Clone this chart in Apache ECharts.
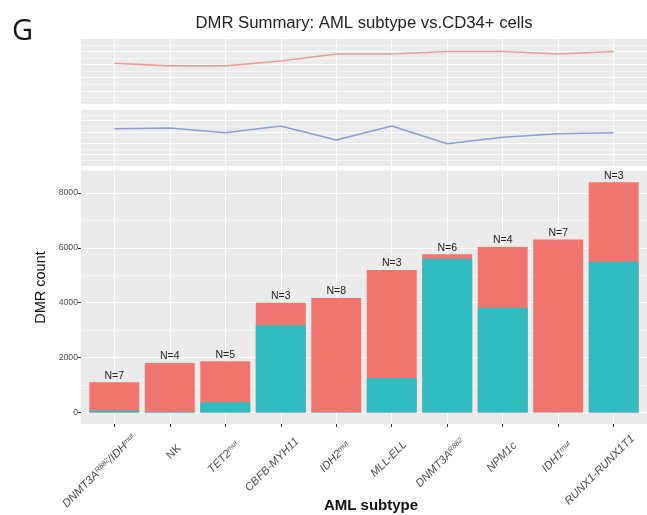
<!DOCTYPE html>
<html>
<head>
<meta charset="utf-8">
<title>DMR Summary</title>
<script src="https://cdn.jsdelivr.net/npm/echarts/dist/echarts.min.js"></script>
<style>
  html, body { margin: 0; padding: 0; background: #fff; }
  #chart { width: 647px; height: 515px; }
</style>
</head>
<body>
<div id="chart"></div>
<script>
// AML subtypes; each label is a list of [text, style] pieces (superscripts as 'sup')
const subtypeLabels = [
  [['DNMT3A', 'it'], ['R882', 'sup'], ['/IDH', 'it'], ['mut', 'sup']],
  [['NK', 'plain']],
  [['TET2', 'it'], ['mut', 'sup']],
  [['CBFB-MYH11', 'it']],
  [['IDH2', 'it'], ['mut', 'sup']],
  [['MLL-ELL', 'it']],
  [['DNMT3A', 'it'], ['R882', 'sup']],
  [['NPM1c', 'it']],
  [['IDH1', 'it'], ['mut', 'sup']],
  [['RUNX1-RUNX1T1', 'it']]
];
// Number of samples per subtype
const sampleCounts = [7, 4, 5, 3, 8, 3, 6, 4, 7, 3];
// DMR counts per subtype (teal lower segment, salmon upper segment)
const hypoDMR  = [70, 30, 370, 3180, 20, 1260, 5600, 3820, 5, 5490];
const hyperDMR = [1030, 1770, 1500, 820, 4150, 3930, 170, 2210, 6300, 2900];
// Trend panels above the bars (relative scale)
const hyperTrend = [0.62, 0.58, 0.58, 0.655, 0.76, 0.76, 0.80, 0.80, 0.76, 0.80];
const hypoTrend  = [0.658, 0.67, 0.586, 0.705, 0.459, 0.705, 0.393, 0.506, 0.57, 0.586];
// Count axis breaks
const countTicks = [0, 2000, 4000, 6000, 8000];
const countMinorTicks = [1000, 3000, 5000, 7000];

const FONT = 'Liberation Sans, Arial, Helvetica, sans-serif';
const positions = subtypeLabels.map((_, i) => i);
const toPairs = arr => arr.map((v, i) => [i, v]);
const totalDMR = hypoDMR.map((v, i) => v + hyperDMR[i]);

// Tick label fonts
const TICK_SIZE = 11.3;
const SUP_SIZE = 7.2;
const labelFonts = {
  it: 'italic ' + TICK_SIZE + 'px ' + FONT,
  plain: TICK_SIZE + 'px ' + FONT,
  sup: 'italic ' + SUP_SIZE + 'px ' + FONT
};

// Measure each tick label so the rotated text can be shifted along its own direction
const measureCtx = document.createElement('canvas').getContext('2d');
function labelWidth(pieces) {
  return pieces.reduce((w, [t, s]) => {
    measureCtx.font = labelFonts[s];
    return w + measureCtx.measureText(t).width;
  }, 0);
}
const tickRich = {
  it:    { fontFamily: FONT, fontStyle: 'italic', fontSize: TICK_SIZE, color: '#4D4D4D' },
  plain: { fontFamily: FONT, fontSize: TICK_SIZE, color: '#4D4D4D' },
  sup:   { fontFamily: FONT, fontStyle: 'italic', fontSize: SUP_SIZE, color: '#4D4D4D', verticalAlign: 'top' }
};
// Centred labels padded on one side so each one ends a little past its tick
const spacerSide = [];
subtypeLabels.forEach((pieces, i) => {
  const q = 0.652 * labelWidth(pieces) - 21.6;
  spacerSide[i] = q >= 0 ? 'after' : 'before';
  tickRich['sp' + i] = { width: Math.abs(q), fontSize: TICK_SIZE };
});

function labelRich(i) {
  const body = subtypeLabels[i].map(([t, s]) => '{' + s + '|' + t + '}').join('');
  const pad = '{sp' + i + '| }';
  return spacerSide[i] === 'after' ? body + pad : pad + body;
}

const panelBg = '#EBEBEB';
const grids = [
  { left: 81, right: 0, top: 38.3, height: 65.7 },
  { left: 81, right: 0, top: 109.3, height: 56.7 },
  { left: 81, right: 0, top: 170.5, height: 253.5 }
].map(g => Object.assign({
  show: true, backgroundColor: panelBg, borderWidth: 0,
  containLabel: false, outerBoundsMode: 'none'
}, g));

function xAxisFor(gridIndex, withLabels) {
  return {
    type: 'value', gridIndex, min: -0.6, max: 9.6,
    axisLine: { show: false, onZero: false },
    axisTick: {
      show: withLabels, customValues: positions, length: 3,
      lineStyle: { color: '#333', width: 1 }
    },
    axisLabel: withLabels ? {
      customValues: positions,
      rotate: 45, margin: 32, align: 'center', verticalAlign: 'middle',
      hideOverlap: false,
      formatter: v => labelRich(Math.round(v)),
      rich: tickRich
    } : { show: false },
    splitLine: { show: true, lineStyle: { color: '#ffffff', width: 1 } }
  };
}

function trendYAxis(gridIndex) {
  return {
    type: 'value', gridIndex, min: 0, max: 1, interval: 0.2,
    axisLine: { show: false, onZero: false }, axisTick: { show: false }, axisLabel: { show: false },
    splitLine: { show: true, lineStyle: { color: '#ffffff', width: 1 } },
    minorTick: { show: false, splitNumber: 2 },
    minorSplitLine: { show: true, lineStyle: { color: '#ffffff', width: 0.5 } }
  };
}

const chart = echarts.init(document.getElementById('chart'), null, { renderer: 'canvas' });

chart.setOption({
  animation: false,
  textStyle: { fontFamily: FONT },
  grid: grids,
  xAxis: [xAxisFor(0, false), xAxisFor(1, false), xAxisFor(2, true)],
  yAxis: [
    trendYAxis(0),
    trendYAxis(1),
    {
      type: 'value', gridIndex: 2, min: -420, max: 8820,
      axisLine: { show: false, onZero: false },
      axisTick: { show: true, length: 3, customValues: countTicks, lineStyle: { color: '#333' } },
      axisLabel: {
        customValues: countTicks, fontSize: 8.7, color: '#4D4D4D', margin: 3, fontFamily: FONT,
        formatter: v => String(v)
      },
      splitLine: { show: true, lineStyle: { color: '#ffffff', width: 1.1 } }
    },
    {
      type: 'value', gridIndex: 2, min: -420, max: 8820, position: 'left',
      axisLine: { show: false, onZero: false },
      axisTick: { show: false, customValues: countMinorTicks },
      axisLabel: { show: false },
      splitLine: { show: true, lineStyle: { color: '#ffffff', width: 0.5 } }
    }
  ],
  series: [
    {
      type: 'line', xAxisIndex: 0, yAxisIndex: 0, data: toPairs(hyperTrend),
      symbol: 'none', lineStyle: { color: '#EE9B9B', width: 1.6 }, silent: true
    },
    {
      type: 'line', xAxisIndex: 1, yAxisIndex: 1, data: toPairs(hypoTrend),
      symbol: 'none', lineStyle: { color: '#8B9FD2', width: 1.6 }, silent: true
    },
    {
      // full bar height (both segments); the teal part is drawn over its base
      type: 'bar', xAxisIndex: 2, yAxisIndex: 2, barWidth: '90%', barGap: '-100%',
      data: toPairs(totalDMR), itemStyle: { color: '#EF756E' }, silent: true,
      label: {
        show: true, position: 'top', distance: 1,
        formatter: p => 'N=' + sampleCounts[p.dataIndex],
        fontSize: 10.5, color: '#222', fontFamily: FONT
      }
    },
    {
      type: 'bar', xAxisIndex: 2, yAxisIndex: 2, barWidth: '90%', barGap: '-100%',
      data: toPairs(hypoDMR), itemStyle: { color: '#30BCC1' }, silent: true
    }
  ],
  graphic: [
    {
      type: 'text', left: 12, top: 17,
      style: { text: 'G', font: '29px "Open Sans", sans-serif', fill: '#161616' }
    },
    {
      type: 'text', x: 364, y: 23,
      style: {
        text: 'DMR Summary: AML subtype vs.CD34+ cells', align: 'center', verticalAlign: 'middle',
        font: '16.7px ' + FONT, fill: '#222'
      }
    },
    {
      type: 'text', x: 41, y: 287.5, rotation: Math.PI / 2,
      style: {
        text: 'DMR count', align: 'center', verticalAlign: 'middle',
        font: '14.5px ' + FONT, fill: '#111'
      }
    },
    {
      type: 'text', x: 371, y: 506,
      style: {
        text: 'AML subtype', align: 'center', verticalAlign: 'middle',
        font: 'bold 15px ' + FONT, fill: '#111'
      }
    }
  ]
});
</script>
</body>
</html>
